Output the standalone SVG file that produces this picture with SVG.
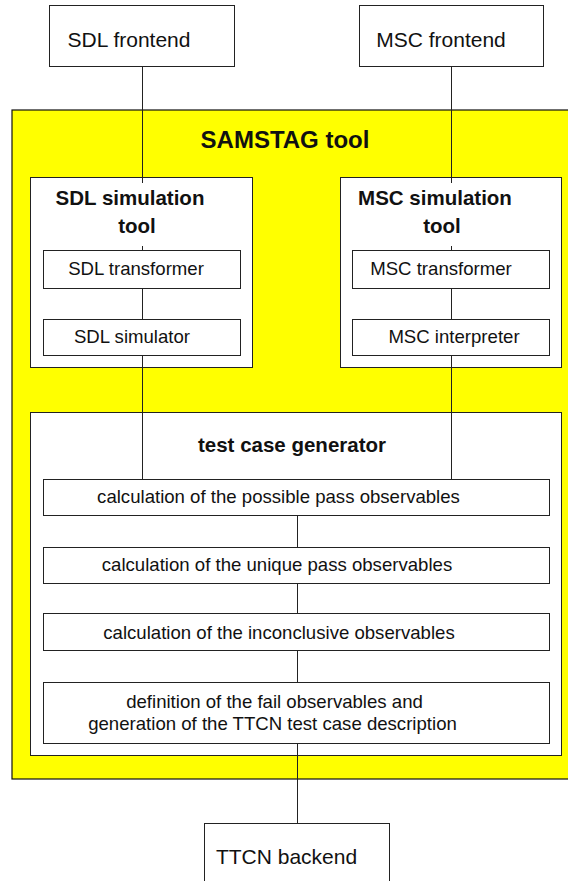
<svg xmlns="http://www.w3.org/2000/svg" width="568" height="881" viewBox="0 0 568 881">
<style>
.box{fill:#ffffff;stroke:#222;stroke-width:1}
.yel{fill:#ffff00;stroke:#111;stroke-width:1.2}
.ln{stroke:#222;stroke-width:1;fill:none}
text{font-family:"Liberation Sans",Arial,sans-serif;fill:#111;text-anchor:middle}
.big{font-size:21px}
.sm{font-size:18.6px}
.b{font-weight:bold;font-size:20.5px}
.t{font-weight:bold;font-size:24px}
</style>
<rect width="568" height="881" fill="#ffffff"/>
<g id="samstag">
<rect class="yel" x="12" y="110" width="560" height="669"/>
<text class="t" x="285" y="148">SAMSTAG tool</text>
</g>
<g id="sdl-frontend">
<rect class="box" x="49.5" y="5.5" width="185" height="61"/>
<text class="big" x="129" y="47">SDL frontend</text>
</g>
<g id="msc-frontend">
<rect class="box" x="359.5" y="5.5" width="184" height="61"/>
<text class="big" x="441" y="47">MSC frontend</text>
</g>
<g id="sdl-sim-tool">
<rect class="box" x="30.5" y="177.5" width="222" height="190"/>
<text class="b" x="130" y="205">SDL simulation</text>
<text class="b" x="137" y="233">tool</text>
</g>
<g id="msc-sim-tool">
<rect class="box" x="340.5" y="177.5" width="221" height="190"/>
<text class="b" x="435" y="205">MSC simulation</text>
<text class="b" x="442" y="233">tool</text>
</g>
<g id="sdl-transformer">
<rect class="box" x="43.5" y="250.5" width="197" height="38"/>
<text class="sm" x="136" y="275">SDL transformer</text>
</g>
<g id="sdl-simulator">
<rect class="box" x="43.5" y="319.5" width="197" height="36"/>
<text class="sm" x="132" y="343">SDL simulator</text>
</g>
<g id="msc-transformer">
<rect class="box" x="352.5" y="250.5" width="197" height="38"/>
<text class="sm" x="441" y="275">MSC transformer</text>
</g>
<g id="msc-interpreter">
<rect class="box" x="352.5" y="319.5" width="197" height="36"/>
<text class="sm" x="454" y="343">MSC interpreter</text>
</g>
<g id="tcg">
<rect class="box" x="30.5" y="412.5" width="531" height="343"/>
<text class="b" x="292" y="452">test case generator</text>
</g>
<g id="calc-possible">
<rect class="box" x="43.5" y="479.5" width="506" height="36"/>
<text class="sm" x="278.5" y="503">calculation of the possible pass observables</text>
</g>
<g id="calc-unique">
<rect class="box" x="43.5" y="547.5" width="506" height="36"/>
<text class="sm" x="277" y="571">calculation of the unique pass observables</text>
</g>
<g id="calc-inconclusive">
<rect class="box" x="43.5" y="613.5" width="506" height="37"/>
<text class="sm" x="279" y="639">calculation of the inconclusive observables</text>
</g>
<g id="definition-fail">
<rect class="box" x="43.5" y="682.5" width="506" height="61"/>
<text class="sm" x="274.5" y="708">definition of the fail observables and</text>
<text class="sm" x="272.5" y="730">generation of the TTCN test case description</text>
</g>
<g id="ttcn-backend">
<rect class="box" x="204.5" y="823.5" width="185" height="70"/>
<text class="big" x="286.5" y="864">TTCN backend</text>
</g>
<g id="connectors">
<line class="ln" x1="142.5" y1="66" x2="142.5" y2="183"/>
<line class="ln" x1="142.5" y1="246" x2="142.5" y2="250"/>
<line class="ln" x1="451.5" y1="66" x2="451.5" y2="183"/>
<line class="ln" x1="451.5" y1="246" x2="451.5" y2="250"/>
<line class="ln" x1="142.5" y1="289" x2="142.5" y2="319"/>
<line class="ln" x1="451.5" y1="289" x2="451.5" y2="319"/>
<line class="ln" x1="142.5" y1="356" x2="142.5" y2="479"/>
<line class="ln" x1="451.5" y1="356" x2="451.5" y2="479"/>
<line class="ln" x1="297.5" y1="516" x2="297.5" y2="547"/>
<line class="ln" x1="297.5" y1="584" x2="297.5" y2="613"/>
<line class="ln" x1="297.5" y1="651" x2="297.5" y2="682"/>
<line class="ln" x1="297.5" y1="744" x2="297.5" y2="823"/>
</g>
</svg>
